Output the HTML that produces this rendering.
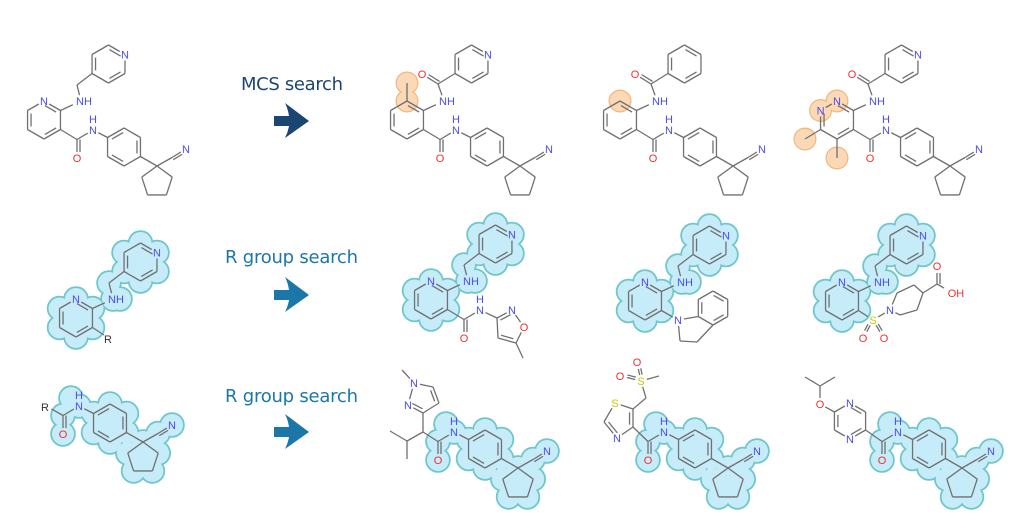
<!DOCTYPE html>
<html><head><meta charset="utf-8"><style>
html,body{margin:0;padding:0;background:#fff;width:1024px;height:530px;overflow:hidden}
svg{display:block}
.t{font-family:"DejaVu Sans","Liberation Sans",sans-serif;font-weight:normal}
</style></head><body>
<svg id="s" width="1024" height="530" viewBox="0 0 1024 530" xmlns="http://www.w3.org/2000/svg">
<g id="cs"></g><g id="cf"></g><g id="os"></g><g id="of"></g><g id="bd"></g><g id="tx"></g>
<text class="t" x="241" y="90" font-size="18" fill="#1b4673" textLength="102">MCS search</text>
<path d="M274,116 H289 Q288,109 285,103 L309,121 L285,138 Q288,132 289,126 H274 Z" fill="#1b4673"/>
<text class="t" x="225" y="263" font-size="18" fill="#1a77a8" textLength="133">R group search</text>
<path d="M274,290 H289 Q288,283 285,277 L309,295 L285,312 Q288,306 289,300 H274 Z" fill="#1a77a8"/>
<text class="t" x="225" y="402" font-size="18" fill="#1a77a8" textLength="133">R group search</text>
<path d="M274,427 H289 Q288,420 285,414 L309,432 L285,449 Q288,443 289,437 H274 Z" fill="#1a77a8"/>
</svg>
<script>
(function(){
const NS="http://www.w3.org/2000/svg";
const G=id=>document.getElementById(id);
function el(g,tag,a,txt){const e=document.createElementNS(NS,tag);for(const k in a)e.setAttribute(k,a[k]);if(txt)e.textContent=txt;G(g).appendChild(e);return e;}
let ox=0,oy=0;
const BC="#707070",NC="#4a4af0",OC="#f03030",SC="#c8c800";
function A(p){return [p[0]+ox,p[1]+oy];}
function ln(a,b,ta,tb,off){ta=ta||0;tb=tb||0;let p=A(a),q=A(b);let dx=q[0]-p[0],dy=q[1]-p[1],L=Math.hypot(dx,dy);let ux=dx/L,uy=dy/L;
 let x1=p[0]+ux*ta,y1=p[1]+uy*ta,x2=q[0]-ux*tb,y2=q[1]-uy*tb;
 if(off){x1+=-uy*off;y1+=ux*off;x2+=-uy*off;y2+=ux*off;}
 el('bd','line',{x1:x1,y1:y1,x2:x2,y2:y2,stroke:BC,'stroke-width':1.3});}
function inner(a,b,c){let p=A(a),q=A(b),cc=A(c);let f=0.16;let x1=p[0]+(q[0]-p[0])*f,y1=p[1]+(q[1]-p[1])*f,x2=q[0]+(p[0]-q[0])*f,y2=q[1]+(p[1]-q[1])*f;
 let mx=(x1+x2)/2,my=(y1+y2)/2,vx=cc[0]-mx,vy=cc[1]-my,L=Math.hypot(vx,vy);vx*=3.5/L;vy*=3.5/L;
 el('bd','line',{x1:x1+vx,y1:y1+vy,x2:x2+vx,y2:y2+vy,stroke:BC,'stroke-width':1.3});}
function lab(p,t,c){let q=A(p);el('tx','text',{x:q[0],y:q[1]+4,'font-size':11,'text-anchor':'middle',fill:c,'font-family':'Liberation Sans, sans-serif'},t);}
function hex(c,r){let v=[];for(let i=0;i<6;i++){let a=(-90+60*i)*Math.PI/180;v.push([c[0]+r*Math.cos(a),c[1]+r*Math.sin(a)]);}return v;}
function ringB(v,c,labs,dbls){for(let i=0;i<v.length;i++){let j=(i+1)%v.length;ln(v[i],v[j],labs.includes(i)?6:0,labs.includes(j)?6:0);}
 dbls.forEach(d=>inner(v[d[0]],v[d[1]],c));}
function cloud(pts,orange){pts.forEach(p=>{let q=A(p);
 el(orange?'os':'cs','circle',{cx:q[0],cy:q[1],r:orange?11.5:12.8,fill:orange?'#f3b57a':'#6fc7ca'});
 el(orange?'of':'cf','circle',{cx:q[0],cy:q[1],r:orange?10.3:11,fill:orange?'#fbd9b6':'#c6ecfa'});});}
const Lc=[44,120],Lv=hex(Lc,19),NH=[81,101],CH2=[77,85],Tc=[108.5,64],Tv=hex(Tc,19);
const AC=[77,139.5],AO=[77,158],AN=[93,130],AH=[93,119],Pc=[124,147],Pv=hex(Pc,19),Cq=[157,166],CNc=[172,157.5],CNn=[186,149];
const Qc=[157,182];const Qv=[];for(let i=0;i<5;i++){let a=(-90+72*i)*Math.PI/180;Qv.push([Qc[0]+16*Math.cos(a),Qc[1]+16*Math.sin(a)]);}
function leftPart(kind){let labs=kind=='pyr'?[0]:kind=='pyd'?[0,5]:[];ringB(Lv,Lc,labs,[[0,1],[2,3],[4,5]]);
 if(kind=='pyr')lab(Lv[0],'N',NC);if(kind=='pyd'){lab(Lv[0],'N',NC);lab(Lv[5],'N',NC);}
 ln(Lv[1],NH,0,9);lab([NH[0]+3,NH[1]],'NH',NC);}
function topPart(kind){
 if(kind=='ch2'){ln(NH,CH2,6,0);ln(CH2,Tv[4]);}
 else{const C=[75,84],O=[59,74];ln(NH,C,6,0);ln(C,O,0,6);ln(C,O,0,6,3);ln(C,Tv[4]);lab(O,'O',OC);}
 let pyr=kind!='amideph';ringB(Tv,Tc,pyr?[1]:[],[[0,1],[2,3],[4,5]]);if(pyr)lab(Tv[1],'N',NC);}
function amide(lb){if(lb)ln(Lv[2],AC);ln(AC,AO,0,6);ln(AC,AO,0,6,-3);lab(AO,'O',OC);ln(AC,AN,0,6);lab(AN,'N',NC);lab(AH,'H',NC);
 ln(AN,Pv[5],6,0);ringB(Pv,Pc,[],[[5,0],[1,2],[3,4]]);ln(Pv[2],Cq);ln(Cq,CNc);ln(CNc,CNn,0,6);ln(CNc,CNn,0,6,2.5);lab(CNn,'N',NC);
 ringB(Qv,Qc,[],[]);}
function cloudTop(){cloud([...Lv,Lc,NH,[88,101],CH2,...Tv,Tc]);}
function cloudAm(){cloud([AC,AO,AN,[85,122],...Pv,Pc,Cq,CNc,CNn,...Qv,Qc]);}
// Row 1
ox=0;oy=0;leftPart('pyr');topPart('ch2');amide(true);
ox=363;oy=0;cloud([[44,83],[44,101]],1);leftPart('benz');ln(Lv[0],[44,83]);topPart('amide');amide(true);
ox=576;oy=0;cloud([Lv[0]],1);leftPart('benz');topPart('amideph');amide(true);
ox=793;oy=0;cloud([Lv[0],Lv[5],[12,139],[44,158]],1);leftPart('pyd');ln(Lv[4],[12,139]);ln(Lv[3],[44,158]);topPart('amide');amide(true);
// Row 2
ox=32;oy=198;cloudTop();leftPart('pyr');topPart('ch2');ln(Lv[2],[72,137]);lab([76,141],'R','#333');
ox=387;oy=180;cloudTop();leftPart('pyr');topPart('ch2');
 (function(){const C3=[110,138],N=[125,130],O=[137,147],C5=[129,163],C4=[111,158];
 ln(Lv[2],AC);ln(AC,AO,0,6);ln(AC,AO,0,6,-3);lab(AO,'O',OC);ln(AC,AN,0,6);lab(AN,'N',NC);lab(AH,'H',NC);ln(AN,C3,6,0);
 ln(C3,N,0,6);inner(C3,N,[121,146]);ln(N,O,6,6);ln(O,C5,6,0);ln(C5,C4);inner(C5,C4,[121,146]);ln(C4,C3);ln(C5,[136,178]);lab(N,'N',NC);lab(O,'O',OC);})();
ox=601;oy=181;cloudTop();leftPart('pyr');topPart('ch2');
 (function(){const N=[77,139],Bc=[112,127],Bv=hex(Bc,17);ln(Lv[2],N,0,6);ringB(Bv,Bc,[],[[0,1],[2,3],[4,5]]);
 ln(N,Bv[4],6,0);ln(N,[79,160],6,0);ln([79,160],[96,161]);ln([96,161],Bv[3]);lab(N,'N',NC);})();
ox=798;oy=181;cloudTop();leftPart('pyr');topPart('ch2');
 (function(){const S=[75,139],N=[92,129];ln(Lv[2],S,0,6);lab(S,'S',SC);ln(S,[66,156],6,6);ln(S,[66,156],6,6,2.5);ln(S,[85,156],6,6);ln(S,[85,156],6,6,-2.5);
 lab([65,157],'O',OC);lab([86,157],'O',OC);ln(S,N,6,6);lab(N,'N',NC);
 ln(N,[99,112],6,0);ln([99,112],[116,104]);ln([116,104],[125,112]);ln([125,112],[119,129]);ln([119,129],[102,134]);ln([102,134],N,0,6);
 ln([125,112],[139,103]);ln([139,103],[139,86],0,6);ln([139,103],[139,86],0,6,3);lab([139,85],'O',OC);ln([139,103],[153,111],0,8);lab([158,112],'OH',OC);})();
// Row 3
ox=-14;oy=276;cloudAm();amide(false);ln(AC,[62,131],0,4);lab([59,131],'R','#333');
ox=361;oy=302;cloudAm();amide(false);
ox=0;oy=0;
 (function(){const C=[438,441.5],CH=[423,432],iP=[407,441];ln(C,CH);ln(CH,iP);ln(iP,[390,431]);ln(iP,[407,459]);
 const C3=[423,413],C4=[439,403],C5=[433,387],N1=[414,383],N2=[408,405];ln(CH,C3);ln(C3,C4);ln(C4,C5);inner(C4,C5,[423,398]);ln(C5,N1,0,6);ln(N1,N2,6,6);ln(N2,C3,6,0);inner(N2,C3,[423,398]);
 ln(N1,[402,370],6,0);lab(N1,'N',NC);lab(N2,'N',NC);})();
ox=571;oy=302;cloudAm();amide(false);
ox=0;oy=0;
 (function(){const C=[648,441.5],C4=[633,427],C5=[633,409],S=[615,403],C2=[604,422],N=[617,438];ln(C,C4);ln(C4,C5);inner(C4,C5,[620,420]);ln(C5,S,0,6);ln(S,C2,6,0);ln(C2,N,0,6);inner(C2,N,[620,420]);ln(N,C4,6,0);
 lab(S,'S',SC);lab(N,'N',NC);const CH=[646,398],S2=[641,381];ln(C5,CH);ln(CH,S2,0,6);lab(S2,'S',SC);ln(S2,[637,363],6,6);ln(S2,[637,363],6,6,2.5);ln(S2,[621,376],6,6);ln(S2,[621,376],6,6,2.5);
 lab([637,362],'O',OC);lab([620,376],'O',OC);ln(S2,[659,376],6,0);})();
ox=805;oy=302;cloudAm();amide(false);
ox=0;oy=0;
 (function(){const c=[850,421],v=hex(c,18);ln([882,441.5],v[2]);ringB(v,c,[0,3],[[0,1],[2,3],[4,5]]);lab(v[0],'N',NC);lab(v[3],'N',NC);
 const O=[820,404];ln(v[5],O,0,6);lab(O,'O',OC);const CH=[820,386];ln(O,CH,6,0);ln(CH,[805,377]);ln(CH,[835,377]);})();
})();
</script>
</body></html>
